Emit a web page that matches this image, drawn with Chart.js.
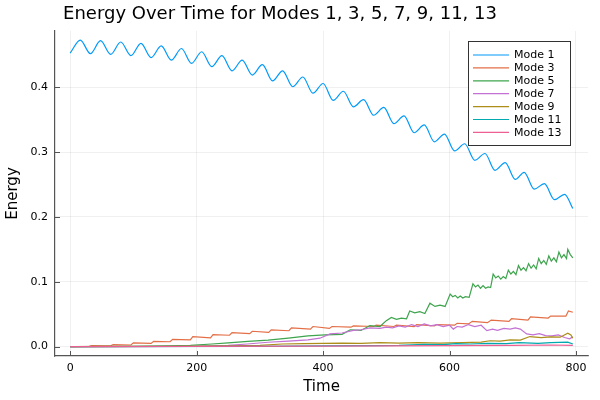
<!DOCTYPE html>
<html>
<head>
<meta charset="utf-8">
<script src="https://cdn.jsdelivr.net/npm/chart.js@4.4.1/dist/chart.umd.min.js"></script>
<style>
  html, body { margin: 0; padding: 0; background: #fff; }
  #wrap { width: 600px; height: 400px; }
</style>
</head>
<body>
<div id="wrap"><canvas id="energyChart"></canvas></div>
<script>
// Tick labels
const xTicks = [0, 200, 400, 600, 800];
const yTicks = [0, 0.1, 0.2, 0.3, 0.4];
const yTickLabels = ['0.0', '0.1', '0.2', '0.3', '0.4'];

const modeLabels = ['Mode 1', 'Mode 3', 'Mode 5', 'Mode 7', 'Mode 9', 'Mode 11', 'Mode 13'];
const modeColors = ['#009AFA', '#E36F47', '#3EA44E', '#C371D2', '#AC8E18', '#00AAAE', '#ED5E93'];

// Mode 1
const time1 = [0, 16, 32, 48, 64, 80, 96, 112, 128, 144, 160, 176, 192, 208, 224, 240, 256, 272, 288, 304,
  320, 336, 352, 368, 384, 400, 416, 432, 448, 464, 480, 496, 512, 528, 544, 560, 576, 592, 608, 624,
  640, 656, 672, 688, 704, 718, 734, 750, 766, 782, 795];
const energy1 = [0.453, 0.473, 0.452, 0.472, 0.451, 0.470, 0.449, 0.468, 0.446, 0.464, 0.442, 0.460, 0.437, 0.455, 0.432, 0.449, 0.4255, 0.442, 0.419, 0.435,
  0.410, 0.4255, 0.401, 0.416, 0.391, 0.406, 0.380, 0.394, 0.370, 0.381, 0.357, 0.369, 0.344, 0.356, 0.330, 0.342, 0.316, 0.328, 0.302, 0.313,
  0.2875, 0.298, 0.272, 0.284, 0.258, 0.269, 0.243, 0.2514, 0.2267, 0.235, 0.213];

// Mode 3
const time3 = [0, 30, 34, 64, 68, 96, 100, 128, 132, 158, 162, 190, 194, 222, 226, 252, 256, 284, 288, 314, 318, 346, 350, 380, 384,
  410, 414, 444, 448, 480, 484, 512, 516, 544, 548, 576, 580, 608, 612, 630, 636, 660, 666, 694, 698, 724, 728, 756, 760, 784, 788, 795];
const energy3 = [0, 0.0003, 0.0015, 0.0012, 0.003, 0.0025, 0.0057, 0.005, 0.0082, 0.0075, 0.0113, 0.0105, 0.0155, 0.0135, 0.0185, 0.0175, 0.0216, 0.020, 0.0237, 0.022, 0.0258, 0.0245, 0.029, 0.027, 0.031,
  0.028, 0.031, 0.030, 0.032, 0.031, 0.033, 0.031, 0.033, 0.031, 0.034, 0.032, 0.034, 0.033, 0.036, 0.035, 0.039, 0.037, 0.041, 0.039, 0.043, 0.041, 0.046, 0.044, 0.047, 0.047, 0.055, 0.053];

// Mode 5
const time5 = [0, 100, 150, 190, 224, 250, 281, 313, 345, 376, 403, 430, 443, 460, 474, 490, 500, 508, 516, 524, 532,
  537, 545, 553, 561, 569, 577, 585, 593,
  601, 605, 609, 613, 617, 621, 625, 631, 637, 641, 645, 649, 653, 657, 661, 665,
  669, 673, 677, 681, 685, 689, 693, 697, 701, 705, 709, 713, 717, 721, 725, 729,
  733, 737, 741, 745, 749, 753, 757, 761, 765, 769, 773, 777, 781, 785, 787, 791, 795];
const energy5 = [0, 0.0005, 0.001, 0.002, 0.004, 0.0057, 0.008, 0.010, 0.013, 0.0165, 0.018, 0.019, 0.026, 0.025, 0.0325, 0.031, 0.040, 0.045, 0.042, 0.044, 0.043,
  0.055, 0.052, 0.054, 0.051, 0.067, 0.062, 0.064, 0.062,
  0.081, 0.077, 0.079, 0.075, 0.078, 0.075, 0.077, 0.076, 0.097, 0.092, 0.095, 0.090, 0.094, 0.090, 0.092, 0.091,
  0.112, 0.106, 0.109, 0.104, 0.108, 0.105, 0.118, 0.112, 0.116, 0.111, 0.125, 0.118, 0.122, 0.117, 0.128, 0.121,
  0.126, 0.120, 0.136, 0.128, 0.133, 0.127, 0.140, 0.132, 0.137, 0.131, 0.146, 0.137, 0.142, 0.136, 0.150, 0.142, 0.137];

// Mode 7
const time7 = [0, 200, 250, 280, 313, 345, 376, 395, 411, 430, 448, 460, 474, 490, 500, 510, 520, 530, 540, 550, 560, 570, 580, 590,
  600, 606, 612, 620, 630, 640, 650, 659, 668, 676, 686, 696, 704, 712, 722, 732, 742, 752, 762, 772, 782, 790, 795];
const energy7 = [0, 0.0005, 0.002, 0.004, 0.0067, 0.0085, 0.0103, 0.013, 0.0196, 0.021, 0.025, 0.026, 0.029, 0.028, 0.030, 0.029, 0.032, 0.030, 0.034, 0.031, 0.035, 0.032, 0.034, 0.031,
  0.033, 0.027, 0.031, 0.030, 0.034, 0.031, 0.033, 0.0247, 0.027, 0.025, 0.028, 0.027, 0.029, 0.027, 0.0196, 0.018, 0.020, 0.017, 0.0165, 0.018, 0.014, 0.012, 0.015];

// Mode 9
const time9 = [0, 150, 250, 300, 335, 370, 400, 430, 460, 490, 520, 550, 585, 620, 650, 664, 680, 696, 712, 727, 745, 760, 775, 787, 792, 795];
const energy9 = [0, 0.0003, 0.001, 0.002, 0.004, 0.0045, 0.005, 0.0055, 0.005, 0.006, 0.0055, 0.006, 0.0055, 0.006, 0.007, 0.009, 0.0085, 0.0105, 0.010, 0.0155, 0.014, 0.015, 0.0145, 0.0206, 0.018, 0.013];

// Mode 11
const time11 = [0, 300, 400, 480, 520, 560, 590, 610, 632, 660, 690, 710, 740, 760, 787, 795];
const energy11 = [0, 0.0005, 0.001, 0.0015, 0.002, 0.0035, 0.003, 0.0045, 0.004, 0.005, 0.0045, 0.006, 0.005, 0.006, 0.007, 0.004];

// Mode 13
const time13 = [0, 200, 400, 500, 600, 700, 760, 795];
const energy13 = [0, 0.0002, 0.0008, 0.001, 0.0015, 0.002, 0.0025, 0.002];

const seriesTimes = [time1, time3, time5, time7, time9, time11, time13];
const seriesValues = [energy1, energy3, energy5, energy7, energy9, energy11, energy13];

const axisColor = '#555';

// inward ticks, title and framed legend like the original plot
const plotExtras = {
    id: 'plotExtras',
    afterDraw(chart) {
        const c = chart.ctx;
        const area = chart.chartArea;
        const xs = chart.scales.x, ys = chart.scales.y;
        c.save();
        c.strokeStyle = axisColor;
        c.lineWidth = 1;
        xTicks.forEach(v => {
            const px = Math.round(xs.getPixelForValue(v)) + 0.5;
            c.beginPath(); c.moveTo(px, area.bottom); c.lineTo(px, area.bottom - 5); c.stroke();
        });
        yTicks.forEach(v => {
            const py = Math.round(ys.getPixelForValue(v)) + 0.5;
            c.beginPath(); c.moveTo(area.left, py); c.lineTo(area.left + 5, py); c.stroke();
        });

        // title
        c.fillStyle = '#000';
        c.font = '18px "DejaVu Sans"';
        c.textAlign = 'center';
        c.textBaseline = 'alphabetic';
        c.fillText('Energy Over Time for Modes 1, 3, 5, 7, 9, 11, 13', 280, 18.5);

        // legend
        const bx = 468.5, by = 41.5, bw = 102, bh = 104;
        c.fillStyle = '#fff';
        c.fillRect(bx, by, bw, bh);
        c.strokeStyle = '#333';
        c.lineWidth = 1;
        c.strokeRect(bx, by, bw, bh);
        c.font = '11px "DejaVu Sans"';
        c.textAlign = 'left';
        c.textBaseline = 'middle';
        chart.data.datasets.forEach((ds, i) => {
            const ry = 55 + i * 12.9;
            c.strokeStyle = ds.borderColor;
            c.lineWidth = 1.2;
            c.beginPath(); c.moveTo(473, ry); c.lineTo(509, ry); c.stroke();
            c.fillStyle = '#000';
            c.fillText(ds.label, 514, ry + 0.5);
        });
        c.restore();
    }
};

Chart.defaults.font.family = '"DejaVu Sans"';
Chart.defaults.color = '#000';

const ctx = document.getElementById('energyChart').getContext('2d');
const chart = new Chart(ctx, {
    type: 'line',
    data: {
        datasets: modeLabels.map((label, i) => ({
            label: label,
            data: seriesTimes[i].map((t, j) => ({ x: t, y: seriesValues[i][j] })),
            borderColor: modeColors[i],
            backgroundColor: modeColors[i],
            borderWidth: 1.2,
            pointRadius: 0,
            fill: false,
            tension: 0,
            cubicInterpolationMode: i === 0 ? 'monotone' : 'default',
            order: 6 - i
        }))
    },
    options: {
        responsive: true,
        maintainAspectRatio: false,
        animation: false,
        layout: { padding: { left: 0, right: 12, top: 31, bottom: 0 } },
        plugins: {
            legend: { display: false },
            title: { display: false },
            tooltip: { enabled: false }
        },
        scales: {
            x: {
                type: 'linear',
                min: -24,
                max: 819,
                afterBuildTicks: s => { s.ticks = xTicks.map(v => ({ value: v })); },
                afterFit: s => { s.height = 44; },
                ticks: { font: { size: 11 }, padding: 6, maxRotation: 0, callback: v => String(v) },
                grid: { color: 'rgba(0,0,0,0.1)', lineWidth: 0.6, drawTicks: false },
                border: { display: true, color: axisColor, width: 1.2 },
                title: { display: true, text: 'Time', font: { size: 15 }, padding: { top: 0, bottom: 4 } }
            },
            y: {
                type: 'linear',
                min: -0.0145,
                max: 0.487,
                afterBuildTicks: s => { s.ticks = yTicks.map(v => ({ value: v })); },
                afterFit: s => { s.width = 55; },
                ticks: { font: { size: 11 }, padding: 7, callback: v => yTickLabels[yTicks.indexOf(v)] },
                grid: { color: 'rgba(0,0,0,0.1)', lineWidth: 0.6, drawTicks: false },
                border: { display: true, color: axisColor, width: 1.2 },
                title: { display: true, text: 'Energy', font: { size: 15 }, padding: { top: 4, bottom: 0 } }
            }
        }
    },
    plugins: [plotExtras]
});
</script>
</body>
</html>
